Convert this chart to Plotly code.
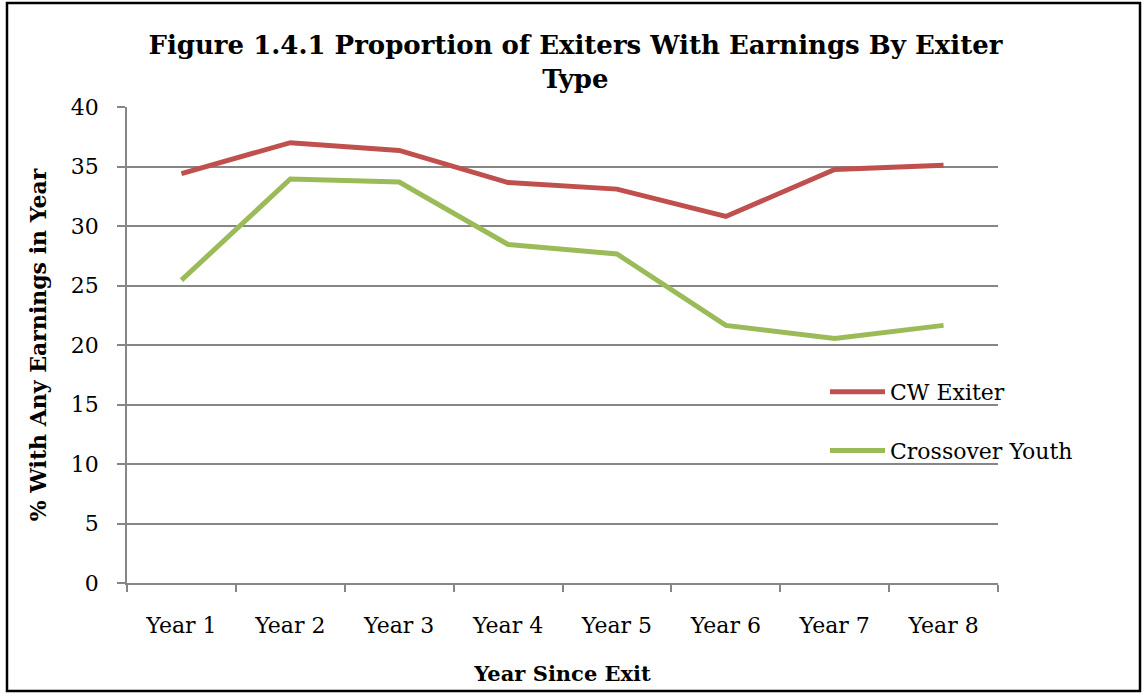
import plotly.graph_objects as go

years = ["Year 1", "Year 2", "Year 3", "Year 4", "Year 5", "Year 6", "Year 7", "Year 8"]
cw_exiter = [34.4, 37.0, 36.35, 33.65, 33.1, 30.8, 34.75, 35.1]
crossover_youth = [25.45, 33.95, 33.7, 28.45, 27.65, 21.65, 20.55, 21.65]
y_ticks = [0, 5, 10, 15, 20, 25, 30, 35, 40]

FONT = "DejaVu Serif"
W, H = 1144, 698
L, R, T, B = 127, 146, 107, 115
PW, PH = W - L - R, H - T - B

fig = go.Figure()
fig.add_trace(go.Scatter(x=years, y=cw_exiter, mode="lines", name="CW Exiter",
                         legendgroup="a", line=dict(color="#C0504D", width=5)))
fig.add_trace(go.Scatter(x=years, y=crossover_youth, mode="lines", name="Crossover Youth",
                         legendgroup="b", line=dict(color="#9BBB59", width=5)))

def px_x(p):
    return (p - L) / PW

def px_y(p):
    return (H - B - p) / PH

fig.update_layout(
    width=W, height=H,
    margin=dict(l=L, r=R, t=T, b=B),
    paper_bgcolor="white", plot_bgcolor="white",
    font=dict(family=FONT, size=22, color="black"),
    title=dict(text="<b>Figure 1.4.1 Proportion of Exiters With Earnings By Exiter<br>Type</b>",
               x=0.503, xanchor="center", xref="container",
               y=1 - 54 / H, yanchor="top", yref="container",
               font=dict(family=FONT, size=26, color="black")),
    xaxis=dict(type="category", range=[-0.5, 7.5], tickson="boundaries",
               ticks="outside", ticklen=7,
               tickcolor="#868686", tickwidth=1.5, showline=True, linecolor="#868686",
               linewidth=1.5, showgrid=False, ticklabelstandoff=22,
               title=dict(text="<b>Year Since Exit</b>", standoff=29,
                          font=dict(family=FONT, size=21))),
    yaxis=dict(range=[0, 40], tickvals=y_ticks, ticks="outside", ticklen=8,
               tickcolor="#868686", tickwidth=1.5, showline=True, linecolor="#868686",
               linewidth=1.5, showgrid=True, gridcolor="#868686", gridwidth=1.5,
               zeroline=False, ticklabelstandoff=14,
               title=dict(text="<b>% With Any Earnings in Year</b>", standoff=18,
                          font=dict(family=FONT, size=22))),
    legend=dict(x=px_x(825), y=px_y(371), xanchor="left", yanchor="top",
                bgcolor="rgba(0,0,0,0)", traceorder="grouped", tracegroupgap=27,
                itemwidth=55, font=dict(family=FONT, size=22)),
    shapes=[dict(type="rect", xref="paper", yref="paper",
                 x0=px_x(7), x1=px_x(1140), y0=px_y(691), y1=px_y(3),
                 line=dict(color="black", width=2.5), fillcolor="rgba(0,0,0,0)")],
)

fig.write_html("out.html", config={"displayModeBar": False},
               post_script="document.body.style.margin='0';document.body.style.overflow='hidden';")
